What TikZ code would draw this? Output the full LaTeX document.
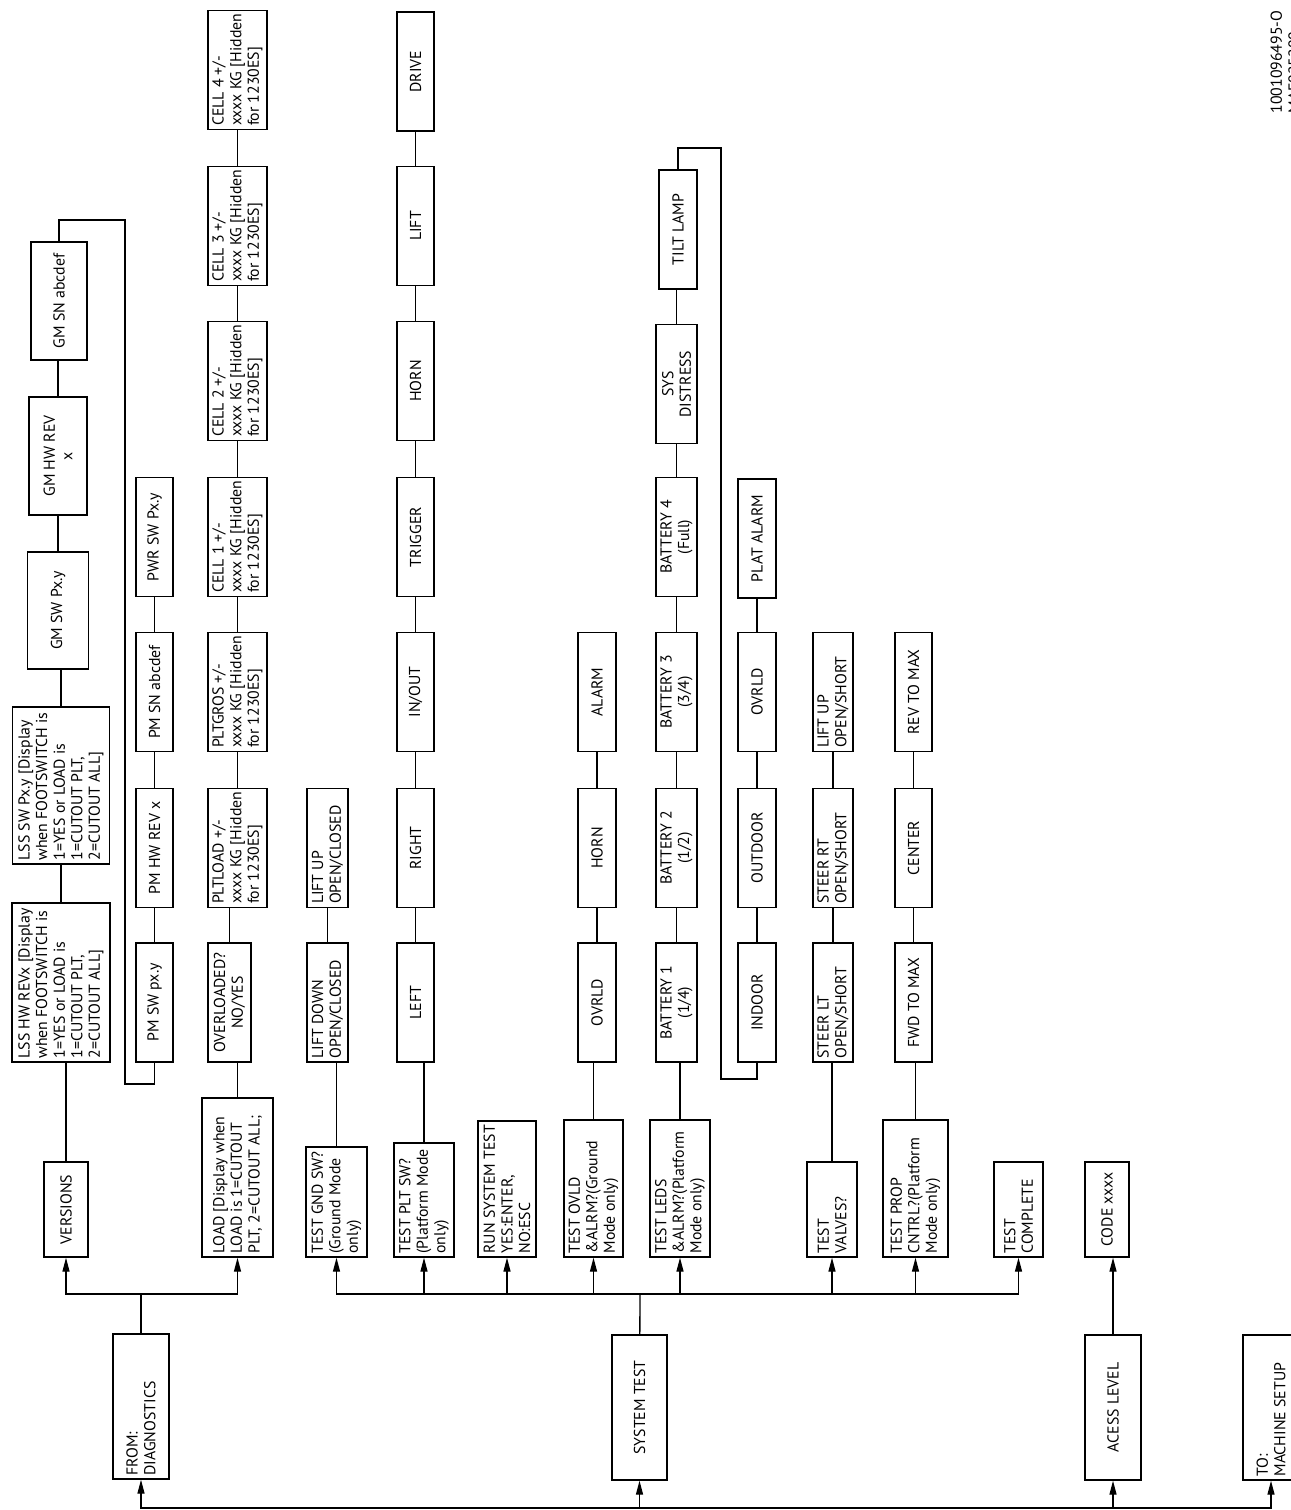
\documentclass[tikz,border=0pt]{standalone}
\usepackage{fontspec}
\setmainfont{PT Sans}
\usepackage{tikz}
\usetikzlibrary{arrows.meta}
% box with left-aligned text starting at its lower end
\newcommand{\tbox}[6]{%
  \node[lbox, minimum width=#4, minimum height=#5] (#1) at (#2,#3) {};
  \node[ltext] (#1txt) at (#1.west) {#6};}

\begin{document}
\begin{tikzpicture}[
  x=0.2mm, y=-0.2mm, line width=0.75pt,
  font=\fontsize{9}{10}\selectfont,
  box/.style={draw, rotate=90, inner sep=1.5pt, minimum width=2.38cm, align=center},
  lbox/.style={draw, rotate=90, inner sep=0pt},
  ltext/.style={rotate=90, anchor=west, align=left, inner sep=2pt},
  arr/.style={-{Triangle[length=2.8mm, width=1.4mm]}},
]
  \useasboundingbox (0,0) rectangle (1291,1510);
  % entry boxes (bottom row)
  \tbox{from}{141}{1406.5}{2.9cm}{1.12cm}{FROM:\\DIAGNOSTICS}
  \node[box, minimum width=2.9cm, minimum height=1.1cm]  (systest) at (639.5,1407.5) {SYSTEM TEST};
  \node[box, minimum width=2.9cm, minimum height=1.12cm] (access)  at (1113,1407.5)  {ACESS LEVEL};
  \tbox{tosetup}{1271}{1407.5}{2.9cm}{1.12cm}{TO:\\MACHINE SETUP}
  % diagnostics: versions
  \node[box, minimum width=1.9cm, minimum height=0.88cm] (versions) at (66,1209.5) {VERSIONS};
  \tbox{lsshw}{61}{982.5}{3.18cm}{1.96cm}{LSS HW REVx [Display\\when FOOTSWITCH is\\1=YES or LOAD is\\1=CUTOUT PLT,\\2=CUTOUT ALL]}
  \tbox{lsssw}{61}{785.5}{3.14cm}{1.94cm}{LSS SW Px.y [Display\\when FOOTSWITCH is\\1=YES or LOAD is\\1=CUTOUT PLT,\\2=CUTOUT ALL]}
  \node[box, minimum width=2.34cm, minimum height=1.22cm] (gmsw) at (58,610.5) {GM SW Px.y};
  \node[box, minimum width=2.36cm, minimum height=1.16cm] (gmhw) at (58,456)   {GM HW REV\\x};
  \node[box, minimum width=2.36cm, minimum height=1.12cm] (gmsn) at (59,301)   {GM SN abcdef};
  \node[box, minimum height=0.74cm] (pmsw)  at (154.5,1002.5) {PM SW px.y};
  \node[box, minimum height=0.74cm] (pmhw)  at (154.5,848)    {PM HW REV x};
  \node[box, minimum height=0.74cm] (pmsn)  at (154.5,692)    {PM SN abcdef};
  \node[box, minimum height=0.74cm] (pwrsw) at (154.5,537)    {PWR SW Px.y};
  % diagnostics: load
  \tbox{load}{237.5}{1177.5}{3.18cm}{1.42cm}{LOAD [Display when\\LOAD is 1=CUTOUT\\PLT, 2=CUTOUT ALL;}
  \node[box, minimum height=0.86cm] (ovl) at (229.5,1002.5) {OVERLOADED?\\NO/YES};
  \tbox{pltload}{237.5}{848}{2.38cm}{1.18cm}{PLTLOAD +/-\\xxxx KG [Hidden\\for 1230ES]}
  \tbox{pltgros}{237.5}{692}{2.38cm}{1.18cm}{PLTGROS +/-\\xxxx KG [Hidden\\for 1230ES]}
  \tbox{cell1}{237.5}{537}{2.38cm}{1.18cm}{CELL 1 +/-\\xxxx KG [Hidden\\for 1230ES]}
  \tbox{cell2}{237.5}{381}{2.38cm}{1.18cm}{CELL 2 +/-\\xxxx KG [Hidden\\for 1230ES]}
  \tbox{cell3}{237.5}{226}{2.38cm}{1.18cm}{CELL 3 +/-\\xxxx KG [Hidden\\for 1230ES]}
  \tbox{cell4}{237.5}{70}{2.38cm}{1.18cm}{CELL 4 +/-\\xxxx KG [Hidden\\for 1230ES]}
  % system test: switches
  \tbox{testgnd}{336.5}{1202}{2.2cm}{1.22cm}{TEST GND SW?\\(Ground Mode\\only)}
  \tbox{liftdn}{327.5}{1002.5}{2.38cm}{0.82cm}{LIFT DOWN\\OPEN/CLOSED}
  \tbox{liftup}{327.5}{848}{2.38cm}{0.82cm}{LIFT UP\\OPEN/CLOSED}
  \tbox{testplt}{424}{1200}{2.28cm}{1.2cm}{TEST PLT SW?\\(Platform Mode\\only)}
  \node[box, minimum height=0.74cm] (left)    at (415.5,1002.5) {LEFT};
  \node[box, minimum height=0.74cm] (right)   at (415.5,848)    {RIGHT};
  \node[box, minimum height=0.74cm] (inout)   at (415.5,692)    {IN/OUT};
  \node[box, minimum height=0.74cm] (trigger) at (415.5,537)    {TRIGGER};
  \node[box, minimum height=0.74cm] (horna)   at (415.5,381)    {HORN};
  \node[box, minimum height=0.74cm] (lift)    at (415.5,226)    {LIFT};
  \node[box, minimum height=0.74cm] (drive)   at (415.5,71.5)   {DRIVE};
  \tbox{run}{507}{1189}{2.72cm}{1.16cm}{RUN SYSTEM TEST\\YES:ENTER,\\NO:ESC}
  % system test: overload, leds
  \tbox{testovld}{593.5}{1188.5}{2.74cm}{1.18cm}{TEST OVLD\\\&ALRM?(Ground\\Mode only)}
  \node[box, minimum height=0.76cm] (ovrld) at (597,1002.5) {OVRLD};
  \node[box, minimum height=0.76cm] (hornb) at (597,848)    {HORN};
  \node[box, minimum height=0.76cm] (alarm) at (597,692)    {ALARM};
  \tbox{testleds}{680}{1188.5}{2.74cm}{1.2cm}{TEST LEDS\\\&ALRM?(Platform\\Mode only)}
  \node[box, minimum height=0.82cm] (bat1) at (676.5,1002.5) {BATTERY 1\\(1/4)};
  \node[box, minimum height=0.82cm] (bat2) at (676.5,848)    {BATTERY 2\\(1/2)};
  \node[box, minimum height=0.82cm] (bat3) at (676.5,692)    {BATTERY 3\\(3/4)};
  \node[box, minimum height=0.82cm] (bat4) at (676.5,537)    {BATTERY 4\\(Full)};
  \node[box, minimum height=0.82cm] (sysd) at (676.5,384)    {SYS\\DISTRESS};
  \node[box, minimum height=0.76cm] (tilt) at (678,229.5)    {TILT LAMP};
  \node[box, minimum height=0.76cm] (indoor)  at (757,1002.5) {INDOOR};
  \node[box, minimum height=0.76cm] (outdoor) at (757,848)    {OUTDOOR};
  \node[box, minimum height=0.76cm] (ovrldb)  at (757,692)    {OVRLD};
  \node[box, minimum height=0.76cm] (platal)  at (757,538.5)  {PLAT ALARM};
  % system test: valves, controller
  \tbox{testvalves}{832}{1209.5}{1.9cm}{1.0cm}{TEST\\VALVES?}
  \tbox{steerlt}{833}{1002.5}{2.38cm}{0.8cm}{STEER LT\\OPEN/SHORT}
  \tbox{steerrt}{833}{848}{2.38cm}{0.8cm}{STEER RT\\OPEN/SHORT}
  \tbox{liftupb}{833}{692}{2.38cm}{0.8cm}{LIFT UP\\OPEN/SHORT}
  \tbox{testprop}{915.5}{1188.5}{2.74cm}{1.3cm}{TEST PROP\\CNTRL?(Platform\\Mode only)}
  \node[box, minimum height=0.74cm] (fwd)    at (913.5,1002.5) {FWD TO MAX};
  \node[box, minimum height=0.74cm] (center) at (913.5,848)    {CENTER};
  \node[box, minimum height=0.74cm] (rev)    at (913.5,692)    {REV TO MAX};
  \tbox{testcomp}{1018.5}{1209.5}{1.9cm}{0.98cm}{TEST\\COMPLETE}
  % access level
  \node[box, minimum width=1.9cm, minimum height=0.88cm] (code) at (1107,1209.5) {CODE xxxx};
  % drawing number
  \node[rotate=90, anchor=north west, align=left, inner sep=0pt] (docid) at (1270,114) {1001096495-O\\MAF025200};
  % bus points
  \coordinate (bbus) at (640,1508);
  \coordinate (dbus) at (141,1294);
  \coordinate (sbus) at (640,1294);
  \coordinate (gmloop) at (125,220);
  \coordinate (pmloop) at (125,1084);
  \coordinate (tiltloop) at (721,148);
  \coordinate (inloop) at (721,1079);
  % bottom bus
  \foreach \t in {from, systest, access, tosetup} \draw[arr] (bbus) -| (\t.west);
  % diagnostics bus
  \draw (from) -- (dbus);
  \foreach \t in {versions, load} \draw[arr] (dbus) -| (\t.west);
  % system test bus
  \draw (systest) -- (sbus);
  \foreach \t in {testgnd, testplt, run, testovld, testleds, testvalves, testprop, testcomp} \draw[arr] (sbus) -| (\t.west);
  \draw[arr] (access.east) -- (access.east |- code.west);
  % chains
  \foreach \a/\b in {versions/lsshw, lsshw/lsssw, lsssw/gmsw, gmsw/gmhw, gmhw/gmsn,
    pmsw/pmhw, pmhw/pmsn, pmsn/pwrsw,
    load/ovl, ovl/pltload, pltload/pltgros, pltgros/cell1, cell1/cell2, cell2/cell3, cell3/cell4,
    testgnd/liftdn, liftdn/liftup,
    testplt/left, left/right, right/inout, inout/trigger, trigger/horna, horna/lift, lift/drive,
    testovld/ovrld, ovrld/hornb, hornb/alarm,
    testleds/bat1, bat1/bat2, bat2/bat3, bat3/bat4, bat4/sysd, sysd/tilt,
    indoor/outdoor, outdoor/ovrldb, ovrldb/platal,
    testvalves/steerlt, steerlt/steerrt, steerrt/liftupb,
    testprop/fwd, fwd/center, center/rev}
    \draw (\a.east) -- (\a.east |- \b.west);
  % loops
  \draw (gmsn.east) |- (gmloop) -- (pmloop) -| (pmsw.west);
  \draw (tilt.east) |- (tiltloop) -- (inloop) -| (indoor.west);
\end{tikzpicture}
\end{document}
